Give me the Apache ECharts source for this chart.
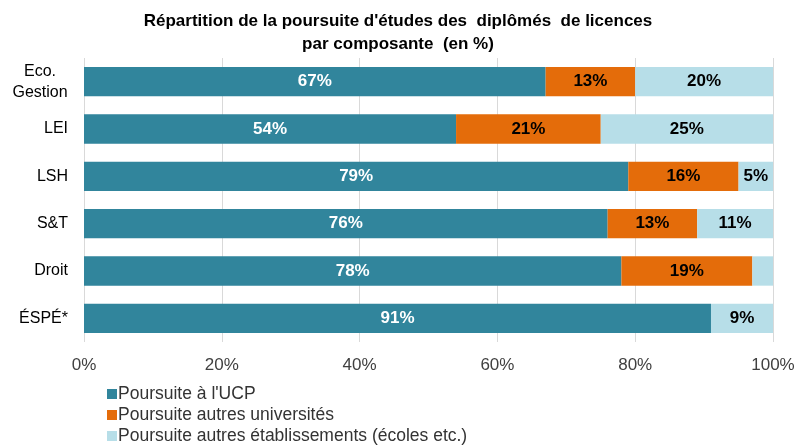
<!DOCTYPE html>
<html>
<head>
    <meta charset="UTF-8">
    <title>Poursuite d'études</title>
    <style>
        *{margin:0;padding:0;}
        .container{width:796px;height:448px;background:#fff;}
    </style>
    <script src="https://cdn.jsdelivr.net/npm/echarts@6/dist/echarts.min.js"></script>
</head>
<body>
<div class="container"></div>
<script>
    let categories=['Eco.\nGestion','LEI','LSH','S&T','Droit','ÉSPÉ*']
    let ucp=[67,54,79,76,78,91]
    let autresUniv=[13,21,16,13,19,0]
    let autresEtab=[20,25,5,11,3,9]
    let names=["Poursuite à l'UCP",'Poursuite autres universités','Poursuite autres établissements (écoles etc.)']
    let colors=['#31859C','#E46C0A','#B7DEE8']
    let font='"Liberation Sans", Arial, sans-serif'

    let container=document.querySelector('.container')
    let mychart=echarts.init(container)

    let series=[ucp,autresUniv,autresEtab].map((vals,i)=>({
        name:names[i],
        type:'bar',
        stack:'total',
        data:vals,
        barCategoryGap:'38%',
        itemStyle:{color:colors[i]},
        label:{
            show:true,
            position:'inside',
            fontFamily:font,
            fontWeight:'bold',
            fontSize:17,
            color:i==0?'#fff':'#000',
            formatter:p=>p.value>=5?p.value+'%':''
        }
    }))

    let option={
        animation:false,
        title:{
            text:"Répartition de la poursuite d'études des  diplômés  de licences\npar composante  (en %)",
            left:'center',
            top:5,
            textStyle:{fontFamily:font,fontWeight:'bold',fontSize:17,color:'#000',lineHeight:23}
        },
        grid:{left:84,right:23,top:58,bottom:106,containLabel:false,outerBoundsMode:'none'},
        xAxis:{
            type:'value',
            min:0,max:100,interval:20,
            axisLabel:{formatter:'{value}%',fontFamily:font,fontSize:17,color:'#404040',margin:15},
            splitLine:{lineStyle:{color:'#d9d9d9',width:1}},
            axisLine:{show:false},axisTick:{show:false}
        },
        yAxis:{
            type:'category',
            data:categories,
            inverse:true,
            axisLabel:{
                fontFamily:font,fontSize:16,color:'#000',margin:16,align:'right',
                formatter:v=>v.includes('\n')?v.split('\n').map(s=>'{c|'+s+'}').join('\n'):v,
                rich:{c:{width:56,align:'center',fontFamily:font,fontSize:16,color:'#000',lineHeight:21}}
            },
            axisLine:{show:false},axisTick:{show:false}
        },
        legend:{
            orient:'vertical',
            left:107,
            top:384,
            height:80,
            padding:0,
            itemWidth:10,itemHeight:10,itemGap:1,
            icon:'rect',
            textStyle:{fontFamily:font,fontSize:17.5,lineHeight:20,color:'#333',padding:[0,0,0,-4]},
            data:names
        },
        series
    }
    mychart.setOption(option)
</script>
</body>
</html>
